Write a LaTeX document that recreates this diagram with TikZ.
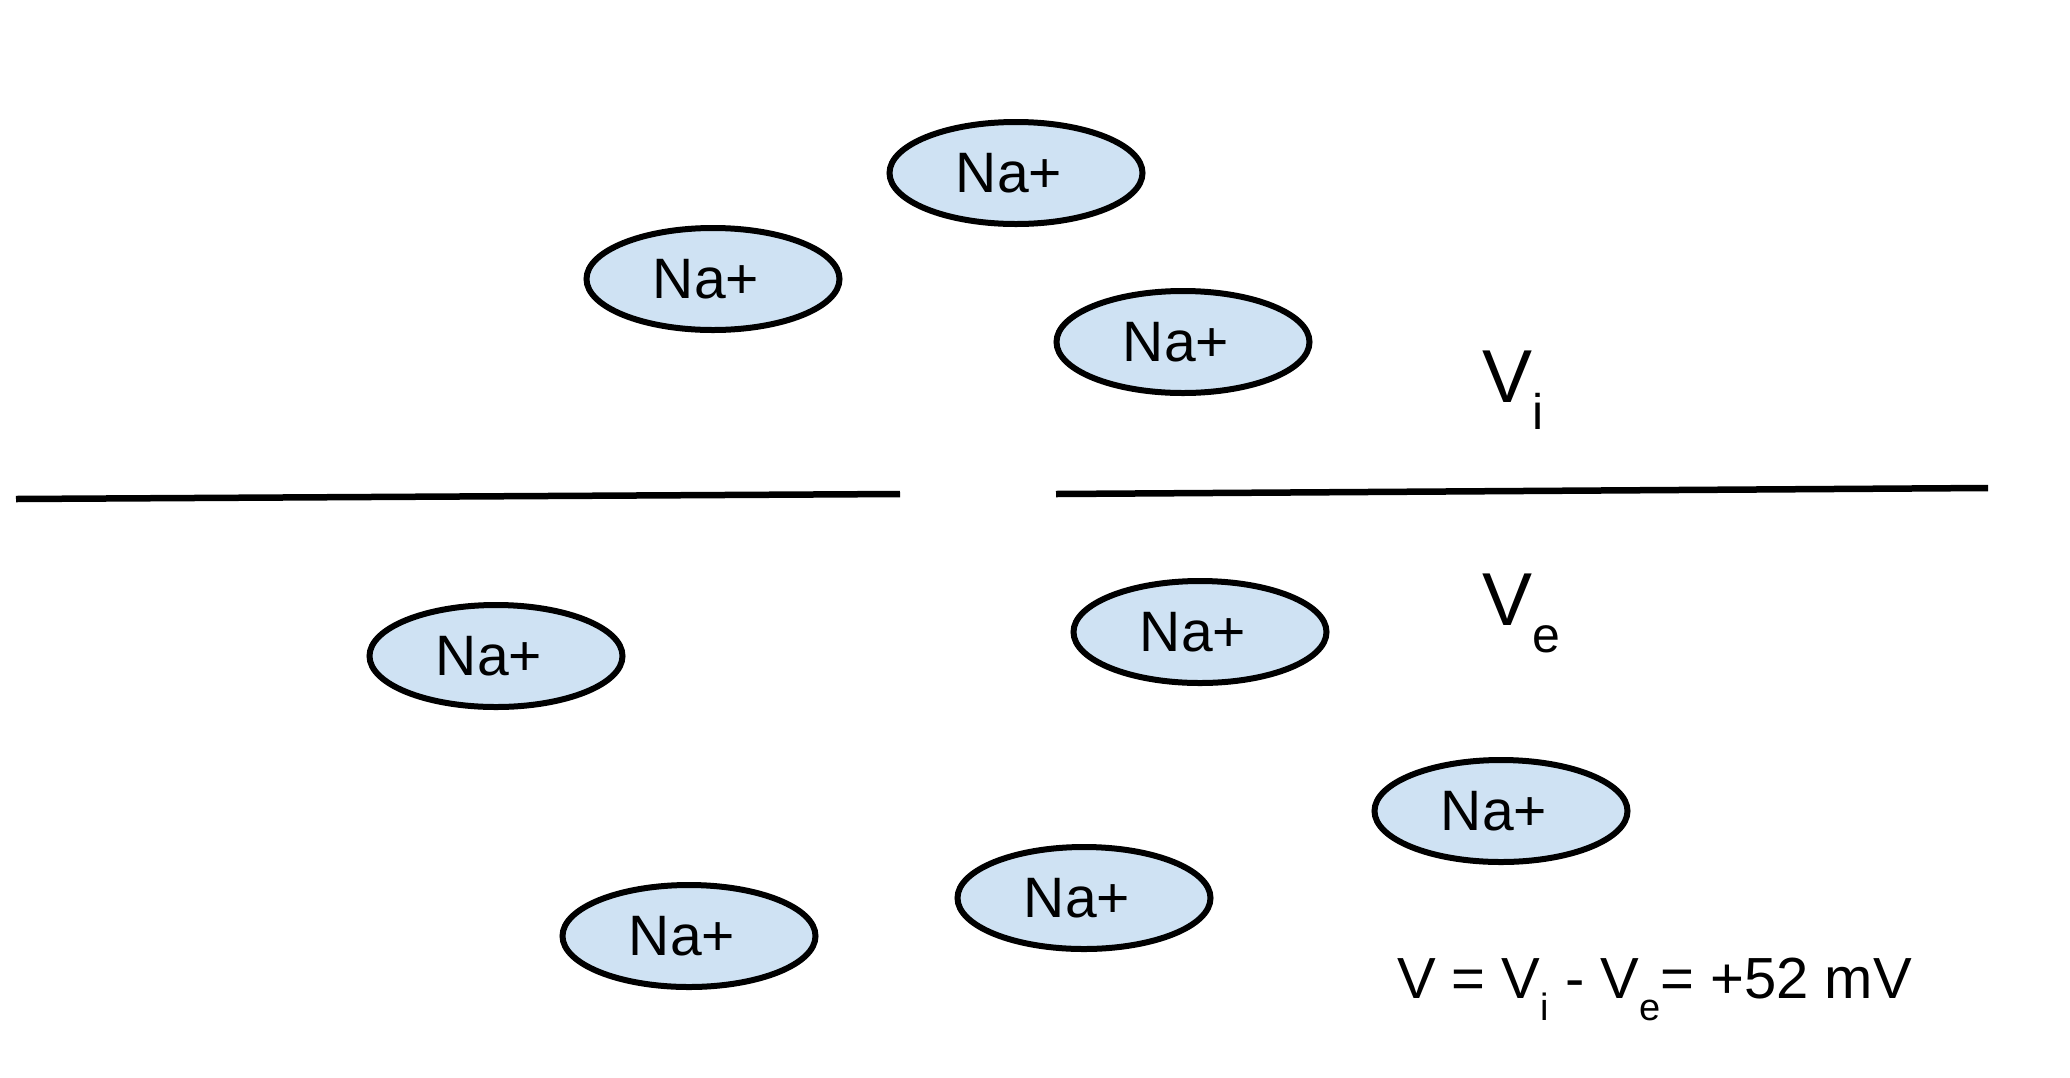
\documentclass[tikz,border=0pt]{standalone}
\usepackage{fontspec}
\setmainfont{Liberation Sans}
\usetikzlibrary{shapes.geometric}
\definecolor{ionblue}{HTML}{CFE2F3}
\begin{document}
\begin{tikzpicture}[x=1pt,y=-1pt]
\tikzset{
  ion/.style={ellipse, draw=black, line width=6pt, fill=ionblue,
    minimum width=253pt, minimum height=102pt, inner sep=0pt,
    font=\fontsize{57}{60}\selectfont},
  membrane/.style={line width=6.5pt},
  bigv/.style={anchor=base west, inner sep=0pt, font=\fontsize{75}{80}\selectfont},
  eqn/.style={anchor=base west, inner sep=0pt, font=\fontsize{58}{62}\selectfont}
}
\newcommand{\ionlabel}{\hspace*{-14pt}Na+}
\useasboundingbox[fill=white] (0,0) rectangle (2070,1077);
% ions
\node[ion] (n1) at (1016,173) {\ionlabel};
\node[ion] (n2) at (713,279) {\ionlabel};
\node[ion] (n3) at (1183,342) {\ionlabel};
\node[ion] (n4) at (496,656) {\ionlabel};
\node[ion] (n5) at (1200,632) {\ionlabel};
\node[ion] (n6) at (1501,811) {\ionlabel};
\node[ion] (n7) at (1084,898) {\ionlabel};
\node[ion] (n8) at (689,936) {\ionlabel};
% membrane
\coordinate (la) at (16,499);
\coordinate (lb) at (900,494);
\coordinate (ra) at (1056,494);
\coordinate (rb) at (1988,488);
\draw[membrane] (la) -- (lb);
\draw[membrane] (ra) -- (rb);
% labels
\node[bigv] (vi) at (1482,402) {V\raisebox{-27pt}{\fontsize{50}{50}\selectfont i}};
\node[bigv] (ve) at (1482,625) {V\raisebox{-27pt}{\fontsize{50}{50}\selectfont e}};
\node[eqn] (eq) at (1397,998) {V = V\raisebox{-22pt}{\fontsize{38}{38}\selectfont i} - V\raisebox{-22pt}{\fontsize{38}{38}\selectfont e}= +52 mV};
\end{tikzpicture}
\end{document}
